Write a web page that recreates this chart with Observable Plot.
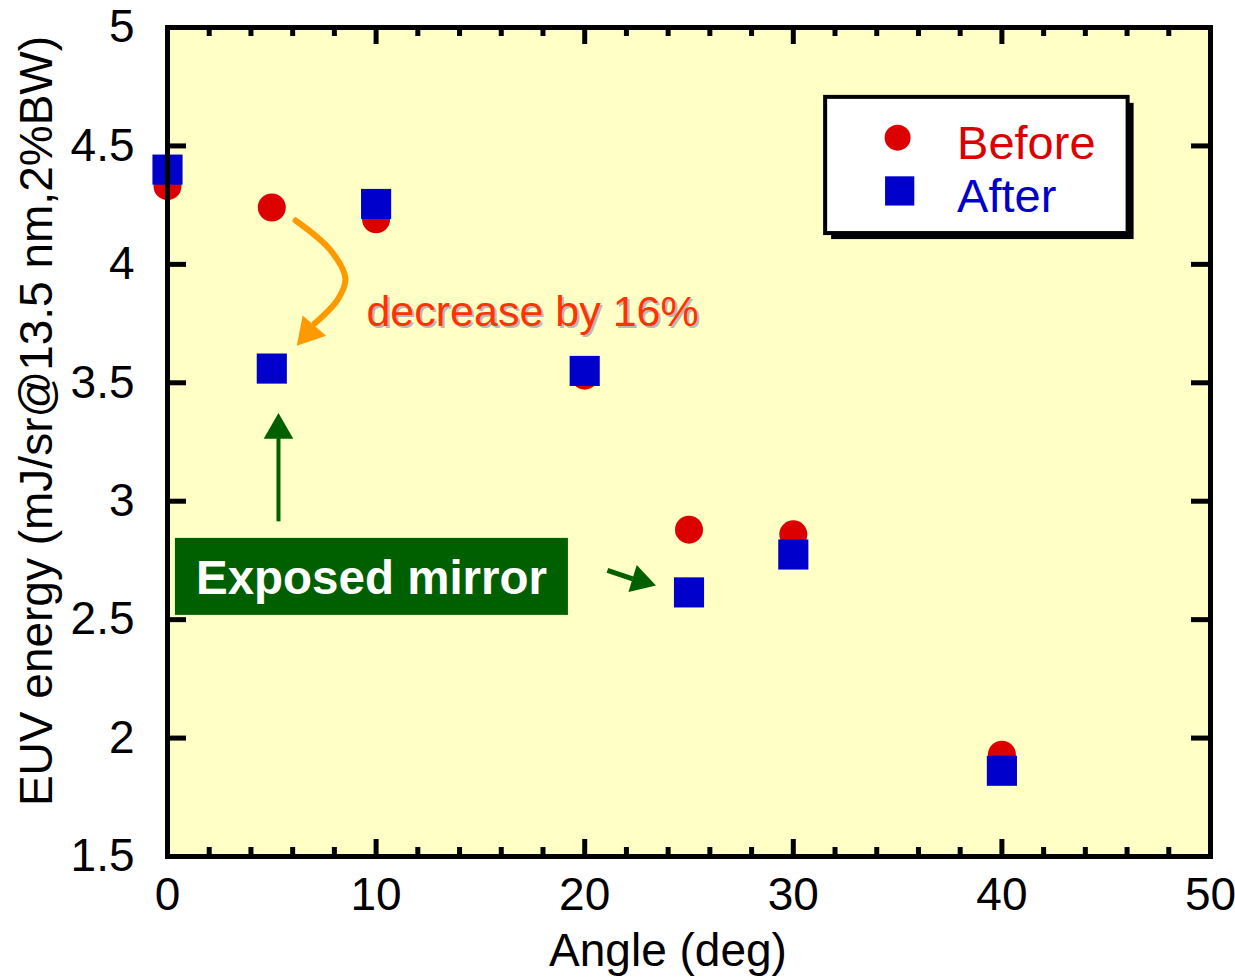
<!DOCTYPE html>
<html>
<head>
<meta charset="utf-8">
<script src="https://cdn.jsdelivr.net/npm/d3@7"></script>
<script src="https://cdn.jsdelivr.net/npm/@observablehq/plot@0.6"></script>
<style>
  html, body { margin: 0; padding: 0; background: #fff; }
  #chart svg { display: block; }
</style>
</head>
<body>
<div id="chart"></div>
<script>
// ---- data ----
const angles = [0, 5, 10, 20, 25, 30, 40];
const before = [4.33, 4.24, 4.19, 3.53, 2.88, 2.86, 1.93];
const after  = [4.40, 3.56, 4.255, 3.55, 2.615, 2.775, 1.862];
const seriesNames = ["Before", "After"];
const seriesColors = ["#dd0000", "#0000cc"];
const xMajorTicks = [0, 10, 20, 30, 40, 50];
const xMinorTicks = [2, 4, 6, 8, 12, 14, 16, 18, 22, 24, 26, 28, 32, 34, 36, 38, 42, 44, 46, 48];
const yTicks = [1.5, 2, 2.5, 3, 3.5, 4, 4.5, 5];
const annotationText = "decrease by 16%";
const boxText = "Exposed mirror";
const xLabel = "Angle (deg)";
const yLabel = "EUV energy (mJ/sr@13.5 nm,2%BW)";

const beforeData = angles.map((a, i) => ({angle: a, value: before[i]}));
const afterData = angles.map((a, i) => ({angle: a, value: after[i]}));

const W = 1235, H = 979;
const mL = 167, mR = 25, mT = 27, mB = 123;
const pw = W - mL - mR, ph = H - mT - mB;
const font = "Liberation Sans, Arial, Helvetica, sans-serif";

// orange curved arrow path (data coords)
const orangeCurve = [
  {x: 6.14, y: 4.185}, {x: 7.81, y: 4.06}, {x: 8.53, y: 3.94},
  {x: 8.15, y: 3.85}, {x: 7.05, y: 3.75}
];

const chart = Plot.plot({
  width: W, height: H,
  marginLeft: mL, marginRight: mR, marginTop: mT, marginBottom: mB,
  style: {fontFamily: font, fontSize: "46px", color: "black", background: "white"},
  x: {domain: [0, 50]},
  y: {domain: [1.5, 5]},
  marks: [
    Plot.frame({fill: "#ffffc6", stroke: null}),
    // axes tick labels
    Plot.axisX({ticks: xMajorTicks, tickSize: 0, tickPadding: 21, label: null, fontSize: 46, tickFormat: d => String(d)}),
    Plot.axisY({ticks: yTicks, tickSize: 0, tickPadding: 33, label: null, fontSize: 46, tickFormat: d => String(d)}),
    // inward ticks
    Plot.tickX(xMajorTicks, {x: d => d, insetTop: ph - 17, stroke: "black", strokeWidth: 5}),
    Plot.tickX(xMajorTicks, {x: d => d, insetBottom: ph - 17, stroke: "black", strokeWidth: 5}),
    Plot.tickX(xMinorTicks, {x: d => d, insetTop: ph - 9, stroke: "black", strokeWidth: 5}),
    Plot.tickX(xMinorTicks, {x: d => d, insetBottom: ph - 9, stroke: "black", strokeWidth: 5}),
    Plot.tickY(yTicks, {y: d => d, insetRight: pw - 19, stroke: "black", strokeWidth: 5}),
    Plot.tickY(yTicks, {y: d => d, insetLeft: pw - 19, stroke: "black", strokeWidth: 5}),
    // axis titles
    Plot.text([yLabel], {frameAnchor: "left", text: d => d, rotate: -90, dx: -130, dy: -21, fontSize: 46, fill: "black", textAnchor: "middle"}),
    Plot.text([xLabel], {frameAnchor: "bottom", text: d => d, dx: -21, dy: 109, fontSize: 46, fill: "black", textAnchor: "middle"}),
    // legend box
    Plot.rect([0], {x1: 31.55, x2: 46.05, y1: 4.13, y2: 4.705, fill: "black", dx: 6, dy: 6}),
    Plot.rect([0], {x1: 31.55, x2: 46.05, y1: 4.13, y2: 4.705, fill: "white", stroke: "black", strokeWidth: 4}),
    Plot.dot([0], {x: 35.0, y: 4.535, r: 13, fill: seriesColors[0], stroke: null}),
    Plot.dot([0], {x: 35.1, y: 4.31, r: 16.5, symbol: "square", fill: seriesColors[1], stroke: null}),
    Plot.text([seriesNames[0]], {x: 37.85, y: 4.51, text: d => d, textAnchor: "start", fontSize: 47, fill: seriesColors[0]}),
    Plot.text([seriesNames[1]], {x: 37.85, y: 4.285, text: d => d, textAnchor: "start", fontSize: 47, fill: seriesColors[1]}),
    // exposed mirror box
    Plot.rect([0], {x1: 0.38, x2: 19.22, y1: 2.518, y2: 2.843, fill: "#006000"}),
    Plot.text([boxText], {x: 9.78, y: 2.674, text: d => d, fontSize: 47.5, fontWeight: "bold", fill: "white"}),
    // green arrows
    Plot.link([0], {x1: 5.32, x2: 5.32, y1: 2.915, y2: 3.27, stroke: "#006000", strokeWidth: 4}),
    Plot.dot([0], {x: 5.32, y: 3.30, r: 11, symbol: "triangle", fill: "#006000", stroke: null}),
    Plot.link([0], {x1: 21.09, x2: 22.3, y1: 2.708, y2: 2.672, stroke: "#006000", strokeWidth: 5}),
    Plot.dot([0], {x: 22.67, y: 2.664, r: 10.5, symbol: "triangle", rotate: 107, fill: "#006000", stroke: null}),
    // orange curved arrow
    Plot.line(orangeCurve, {x: "x", y: "y", curve: "catmull-rom", stroke: "#ff9900", strokeWidth: 6}),
    Plot.dot([0], {x: 6.76, y: 3.713, r: 11.5, symbol: "triangle", rotate: 221, fill: "#ff9900", stroke: null}),
    // decrease text with shadow
    Plot.text([annotationText], {x: 17.5, y: 3.797, text: d => d, fontSize: 43, fill: "#b8b8b8", dx: 2, dy: 2}),
    Plot.text([annotationText], {x: 17.5, y: 3.797, text: d => d, fontSize: 43, fill: "#ff3300"}),
    // data
    Plot.dot(beforeData, {x: "angle", y: "value", r: 14, fill: seriesColors[0], stroke: null}),
    Plot.dot(afterData, {x: "angle", y: "value", r: 17, symbol: "square", fill: seriesColors[1], stroke: null}),
    Plot.frame({stroke: "black", strokeWidth: 5})
  ]
});
document.getElementById("chart").appendChild(chart);
</script>
</body>
</html>
